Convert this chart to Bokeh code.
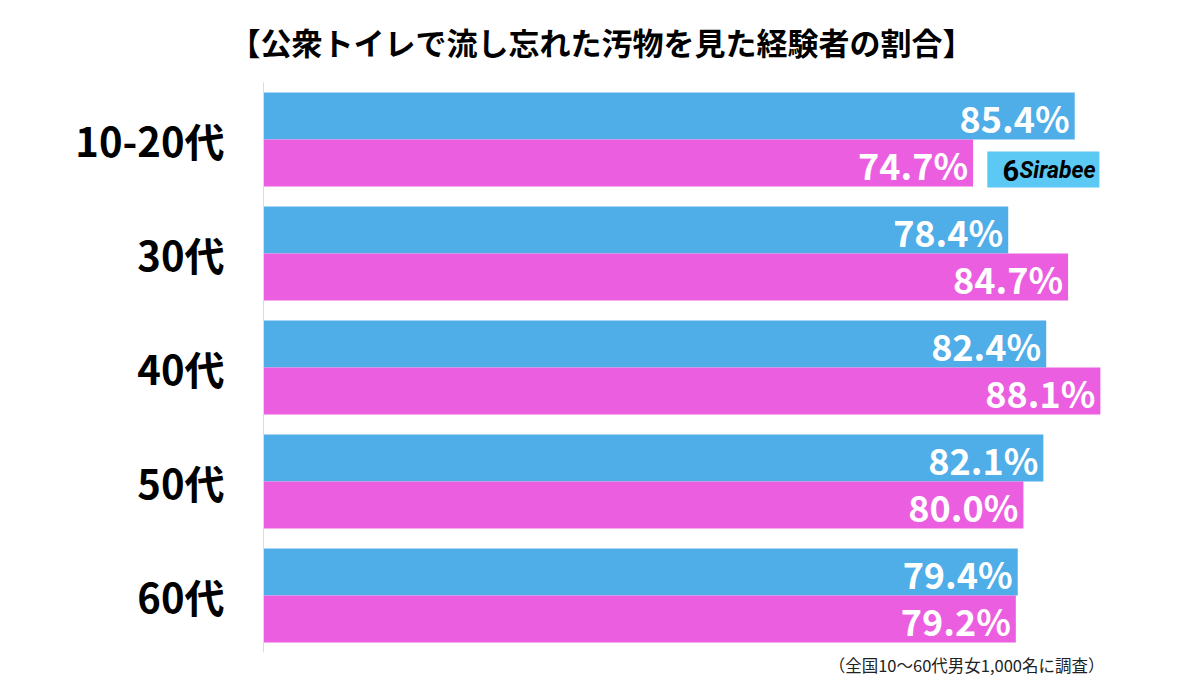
from bokeh.plotting import figure
from bokeh.models import FactorRange, Range1d, ColumnDataSource, LabelSet, BoxAnnotation, Label, Title
from bokeh.transform import dodge
from bokeh.core.properties import value
from bokeh.embed import file_html
from bokeh.resources import INLINE

ages = ["10-20代", "30代", "40代", "50代", "60代"]
male = [85.4, 78.4, 82.4, 82.1, 79.4]
female = [74.7, 84.7, 88.1, 80.0, 79.2]
title_text = "【公衆トイレで流し忘れた汚物を見た経験者の割合】"
note_text = "（全国10〜60代男女1,000名に調査）"
logo_text = "Sirabee"

BLUE = "#4FADE8"
PINK = "#EB5EDF"
JP = "Noto Sans CJK JP"

src = ColumnDataSource(dict(
    age=ages, male=male, female=female,
    male_lbl=[f"{v:.1f}%" for v in male],
    female_lbl=[f"{v:.1f}%" for v in female],
))

p = figure(width=1192, height=679, output_backend="svg", toolbar_location=None,
           y_range=FactorRange(factors=ages[::-1]), x_range=Range1d(0, 97.8),
           min_border_left=263, min_border_right=0, min_border_top=82, min_border_bottom=27)
p.title = None

p.hbar(y=dodge("age", 0.207, range=p.y_range), right="male", left=0, height=0.412,
       source=src, fill_color=BLUE, line_color=None)
p.hbar(y=dodge("age", -0.207, range=p.y_range), right="female", left=0, height=0.412,
       source=src, fill_color=PINK, line_color=None)

for col, lbl, off in (("male", "male_lbl", 0.2), ("female", "female_lbl", -0.214)):
    p.add_layout(LabelSet(x=col, y=dodge("age", off, range=p.y_range), text=lbl, source=src,
                          x_offset=-5, text_align="right", text_baseline="middle",
                          text_color="white", text_font=value(JP), text_font_style="bold",
                          text_font_size="36px"))

# logo
p.add_layout(BoxAnnotation(left=76.2, right=88.0, bottom=4.079, top=4.395,
                           fill_color="#5CC8F4", fill_alpha=1, line_color=None))
p.add_layout(Label(x=77.8, y=4.227, text="6", text_align="left", text_baseline="middle",
                   text_font="Roboto", text_font_style="bold",
                   text_font_size="29px", text_color="black"))
p.add_layout(Label(x=79.6, y=4.227, text=logo_text, text_align="left", text_baseline="middle",
                   text_font="Roboto", text_font_style="bold italic",
                   text_font_size="23px", text_color="black"))

# spacer between frame and title, then the title itself
p.add_layout(Title(text=" ", text_font_size="1px", standoff=16), "above")
p.add_layout(Title(text=title_text, align="left", offset=-34, standoff=0,
                   text_font=JP, text_font_style="bold", text_font_size="31px",
                   text_color="black"), "above")
p.add_layout(Title(text=note_text, align="right", offset=88, standoff=0, vertical_align="top",
                   text_font=JP, text_font_style="normal", text_font_size="16.5px",
                   text_color="#222222"), "below")

p.xaxis.visible = False
p.xgrid.visible = False
p.ygrid.visible = False
p.outline_line_color = None

p.yaxis.axis_line_color = "#dcdcdc"
p.yaxis.major_tick_line_color = None
p.yaxis.minor_tick_line_color = None
p.yaxis.major_label_text_font = JP
p.yaxis.major_label_text_font_style = "bold"
p.yaxis.major_label_text_font_size = "40px"
p.yaxis.major_label_text_color = "black"
p.yaxis.major_label_standoff = 33

open("out.html", "w").write(file_html(p, INLINE))
